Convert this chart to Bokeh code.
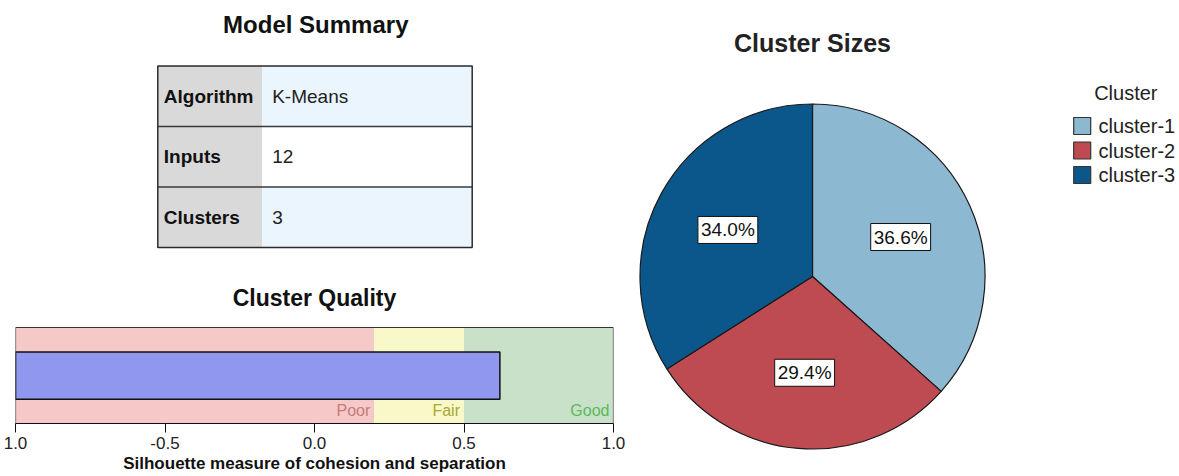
import numpy as np
from bokeh.plotting import figure
from bokeh.layouts import row, column
from bokeh.models import Range1d, FixedTicker, ColumnDataSource
from bokeh.core.properties import value
from bokeh.embed import file_html
from bokeh.resources import INLINE

# ---------------- data ----------------
summary_labels = ["Algorithm", "Inputs", "Clusters"]
summary_values = ["K-Means", "12", "3"]

band_names = ["Poor", "Fair", "Good"]
band_starts = [-1.0, 0.2, 0.5]
band_ends = [0.2, 0.5, 1.0]
silhouette = 0.62
tick_values = [-1.0, -0.5, 0.0, 0.5, 1.0]
tick_labels = ["1.0", "-0.5", "0.0", "0.5", "1.0"]

clusters = ["cluster-1", "cluster-2", "cluster-3"]
sizes_pct = [36.6, 29.4, 34.0]

# ---------------- style ----------------
FONT = value("Liberation Sans")
band_colors = ["#f6c9c9", "#f9f8c9", "#c9e1c9"]
band_text_colors = ["#c47c7c", "#a8a832", "#5cb85c"]
bar_color = "#8f97ef"
pie_colors = ["#8cb8d1", "#be4b51", "#0b578c"]

LEFT_BORDER, RIGHT_BORDER, COL_W = 15, 17, 630


def base_fig(**kw):
    f = figure(output_backend="svg", toolbar_location=None, **kw)
    f.grid.visible = False
    f.outline_line_color = None
    f.background_fill_color = "white"
    f.border_fill_color = "white"
    return f


# ---------------- Model summary table ----------------
# frame is aligned with the quality chart's frame by the column layout
t = base_fig(width=COL_W, height=280,
             x_range=Range1d(LEFT_BORDER, COL_W - RIGHT_BORDER), y_range=Range1d(280, 0),
             x_axis_type=None, y_axis_type=None, min_border=0,
             min_border_left=LEFT_BORDER, min_border_right=RIGHT_BORDER)
tx0, tx1, tx2 = 157.3, 261.7, 471.7
ty0, rh = 65.5, 60.5
n = len(summary_labels)
tops = [ty0 + i * rh for i in range(n)]
bots = [ty0 + (i + 1) * rh for i in range(n)]
mids = [ty0 + (i + 0.5) * rh for i in range(n)]
val_fill = ["#ebf5fe" if i % 2 == 0 else "#ffffff" for i in range(n)]
t.quad(left=tx0, right=tx1, top=tops, bottom=bots, fill_color="#d9d9d9", line_color=None)
t.quad(left=tx1, right=tx2, top=tops, bottom=bots, fill_color=val_fill, line_color=None)
t.segment(x0=tx0, x1=tx2, y0=bots[:-1], y1=bots[:-1], line_color="#3a3a3a", line_width=1.5)
t.quad(left=tx0, right=tx2, top=ty0, bottom=ty0 + n * rh, fill_color=None,
       line_color="#2a2a2a", line_width=1.5)
t.text(x=tx0 + 6, y=mids, text=summary_labels, text_font=FONT, text_font_style="bold",
       text_font_size="19px", text_baseline="middle", text_align="left", text_color="#111111")
t.text(x=tx1 + 10, y=mids, text=summary_values, text_font=FONT,
       text_font_size="19px", text_baseline="middle", text_align="left", text_color="#222222")
t.text(x=[315.3], y=[23.5], text=["Model Summary"], text_font=FONT, text_font_style="bold",
       text_font_size="24px", text_baseline="middle", text_align="center", text_color="#111111")

# ---------------- Cluster quality ----------------
q = base_fig(width=COL_W, height=196, x_range=Range1d(-1.0, 1.0), y_range=Range1d(0, 143),
             y_axis_type=None, min_border_left=LEFT_BORDER, min_border_right=RIGHT_BORDER,
             min_border_top=0, min_border_bottom=53)
band_top, bar_bot, bar_top = 96.0, 24.3, 71.6
q.quad(left=band_starts, right=band_ends, bottom=0, top=band_top,
       fill_color=band_colors, line_color=None)
q.quad(left=[-1.0], right=[silhouette], bottom=bar_bot, top=bar_top,
       fill_color=bar_color, line_color="#111111", line_width=1.5)
q.quad(left=-1.0, right=1.0, bottom=0, top=band_top, fill_color=None,
       line_color="#333333", line_width=1.2)
q.text(x=band_ends, y=13, text=band_names, text_color=band_text_colors, text_font=FONT,
       text_font_size="16px", text_align="right", text_baseline="middle", x_offset=-4)
q.text(x=[0.0], y=[126], text=["Cluster Quality"], text_font=FONT, text_font_style="bold",
       text_font_size="23px", text_align="center", text_baseline="middle", text_color="#111111")
ax = q.xaxis[0]
ax.ticker = FixedTicker(ticks=tick_values)
ax.major_label_overrides = {v: l for v, l in zip(tick_values, tick_labels)}
ax.minor_tick_line_color = None
ax.major_tick_in = 0
ax.major_tick_out = 9
ax.major_tick_line_color = "#111111"
ax.axis_line_color = "#111111"
ax.major_label_standoff = 4
ax.major_label_text_font = "Liberation Sans"
ax.major_label_text_font_size = "17px"
ax.major_label_text_color = "#222222"
ax.axis_label = "Silhouette measure of cohesion and separation"
ax.axis_label_standoff = 2
ax.axis_label_text_font = "Liberation Sans"
ax.axis_label_text_font_size = "17px"
ax.axis_label_text_font_style = "bold"
ax.axis_label_text_color = "#111111"

# ---------------- Cluster sizes pie ----------------
pf = base_fig(width=549, height=476, x_range=Range1d(0, 549), y_range=Range1d(0, 476),
              x_axis_type=None, y_axis_type=None, min_border=0)
cx, cy, R = 182.0, 200.0, 172.5
cum = np.concatenate([[0.0], np.cumsum(sizes_pct)]) / 100.0
start = np.pi / 2 - 2 * np.pi * cum[:-1]
end = np.pi / 2 - 2 * np.pi * cum[1:]
mid = (start + end) / 2
src = ColumnDataSource(dict(start=start, end=end, color=pie_colors, name=clusters,
                            lx=cx + 0.56 * R * np.cos(mid), ly=cy + 0.56 * R * np.sin(mid),
                            lab=[f"{v:.1f}%" for v in sizes_pct]))
pf.wedge(x=cx, y=cy, radius=R, start_angle="start", end_angle="end", direction="clock",
         fill_color="color", line_color="#1a1a1a", line_width=1.2, source=src)
pf.text(x="lx", y="ly", text="lab", source=src, text_font=FONT, text_font_size="19px",
        text_align="center", text_baseline="middle", text_color="#111111",
        background_fill_color="white", border_line_color="#111111", border_line_width=1,
        padding=3)
pf.text(x=[cx], y=[434], text=["Cluster Sizes"], text_font=FONT, text_font_style="bold",
        text_font_size="25px", text_align="center", text_baseline="middle", text_color="#222222")

# legend
lg_x, lg_y0, lg_dy = 451.7, 350.5, 24.5
lg_y = [lg_y0 - i * lg_dy for i in range(len(clusters))]
pf.rect(x=lg_x, y=lg_y, width=17, height=17, fill_color=pie_colors, line_color="#333333",
        line_width=1.2)
pf.text(x=lg_x + 16.3, y=lg_y, text=clusters, text_font=FONT, text_font_size="20px",
        text_align="left", text_baseline="middle", text_color="#222222")
pf.text(x=[495.3], y=[384], text=["Cluster"], text_font=FONT, text_font_size="20px",
        text_align="center", text_baseline="middle", text_color="#222222")

layout = row(column(t, q), pf)
open("out.html", "w").write(file_html(layout, INLINE))
